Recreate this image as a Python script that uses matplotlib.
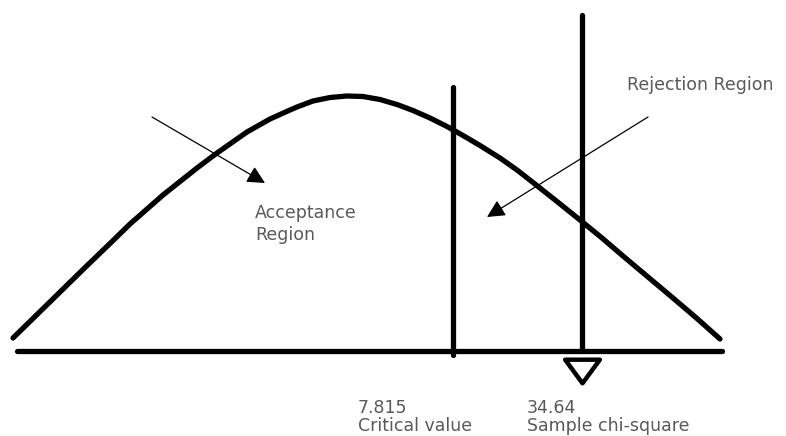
import matplotlib.pyplot as plt
from matplotlib.path import Path

# curve (pixel coords, y downwards)
curve_x = [13, 35, 57, 83, 110, 130, 163, 197, 217, 247, 270, 290, 297, 313, 330, 347, 363, 380,
           397, 413, 430, 447, 463, 480, 500, 517, 533, 557, 580, 602, 623, 648, 673, 697, 720]
curve_y = [338, 316.5, 295, 269.5, 243.5, 224, 195, 168, 153, 132, 119, 110, 107, 101, 97.5, 96, 96.5, 99.5,
           104.5, 110.5, 118, 126.5, 135.5, 145.5, 158, 170, 182.5, 201.5, 220, 238, 256, 277, 298, 318.5, 339]

base_x = [17, 722]
base_y = 351

critical_x = 453
critical_top = 87
sample_x = 582
sample_top = 15

labels_values = ["7.815", "34.64"]
labels_names = ["Critical value", "Sample chi-square"]
labels_x = [358, 527]

fig = plt.figure(figsize=(7.86, 4.36), dpi=100)
ax = fig.add_axes([0, 0, 1, 1])
ax.set_xlim(0, 786)
ax.set_ylim(436, 0)
ax.axis('off')

lw = 3.8
ax.plot(curve_x, curve_y, color='black', lw=lw, solid_capstyle='round', solid_joinstyle='round')
ax.plot(base_x, [base_y, base_y], color='black', lw=lw, solid_capstyle='round')
ax.plot([critical_x, critical_x], [critical_top, 355], color='black', lw=lw, solid_capstyle='round')
ax.plot([sample_x, sample_x], [sample_top, base_y], color='black', lw=lw, solid_capstyle='round')

# hollow triangle below the sample value
tri = Path([(-1, 0.68), (1, 0.68), (0, -0.68), (-1, 0.68)],
           [Path.MOVETO, Path.LINETO, Path.LINETO, Path.CLOSEPOLY])
ax.plot([sample_x], [370.5], marker=tri, markersize=25, markerfacecolor='white',
        markeredgecolor='black', markeredgewidth=3.2)

# arrows
arrow = dict(arrowstyle='-|>', color='black', lw=0.9, mutation_scale=27, shrinkA=0, shrinkB=0)
ax.annotate('', xy=(265, 183), xytext=(152, 117), arrowprops=arrow)
ax.annotate('', xy=(487, 217), xytext=(648, 117), arrowprops=arrow)

txt = dict(color='#595959', fontsize=12.5, family='DejaVu Sans', va='baseline', ha='left')
ax.text(255, 218, "Acceptance", **txt)
ax.text(255, 240, "Region", **txt)
ax.text(627, 90, "Rejection Region", **txt)
for x, v, n in zip(labels_x, labels_values, labels_names):
    ax.text(x, 413, v, **txt)
    ax.text(x, 431, n, **txt)

fig.savefig('out.png', dpi=100)
